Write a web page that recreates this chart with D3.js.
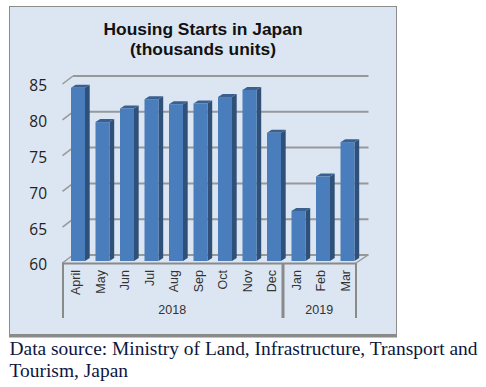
<!DOCTYPE html>
<html><head><meta charset="utf-8">
<script src="https://cdn.jsdelivr.net/npm/d3@7"></script>
<style>html,body{margin:0;padding:0;background:#fff}svg{display:block}</style>
</head><body><svg id="c" width="486" height="387"></svg>
<script>
const months = ["April","May","Jun","Jul","Aug","Sep","Oct","Nov","Dec","Jan","Feb","Mar"];
const values = [84.2,79.4,81.3,82.6,81.9,82.0,82.9,83.9,77.9,67.0,71.8,76.6];
const yearNames = ["2018","2019"];
const yearCounts = [9,3];
const yTicks = [60,65,70,75,80,85];
const titleLines = ["Housing Starts in Japan","(thousands units)"];
const sourceLines = ["Data source: Ministry of Land, Infrastructure, Transport and","Tourism, Japan"];

const svg = d3.select("#c");
// panel
svg.append("rect").attr("x",9.5).attr("y",6.5).attr("width",387).attr("height",329)
  .attr("fill","#dce6f2").attr("stroke","#8c8c8c").attr("stroke-width",1);
svg.append("rect").attr("x",9).attr("y",334).attr("width",388).attr("height",3.5).attr("fill","#8a8a8a");

const x = d3.scaleBand().domain(months).range([63,357]).padding(0);
const y = d3.scaleLinear().domain([60,85]).range([263,84]);
const depthX = 10, depthY = 8;
const gridRight = x.range()[1] - 1;

// back wall gridlines + left wall diagonals
const grid = svg.append("g");
yTicks.forEach(t=>{
  grid.append("line").attr("x1",63+depthX).attr("x2",gridRight+depthX+2.5)
    .attr("y1",y(t)-depthY).attr("y2",y(t)-depthY).attr("stroke","#989898").attr("stroke-width",2);
  grid.append("line").attr("x1",62.5).attr("x2",63+depthX).attr("y1",y(t)).attr("y2",y(t)-depthY)
    .attr("stroke","#989898").attr("stroke-width",1.5);
});
// floor right diagonal
grid.append("line").attr("x1",gridRight).attr("y1",263).attr("x2",gridRight+depthX+2).attr("y2",255)
  .attr("stroke","#989898").attr("stroke-width",1.5);

// y axis labels
const yAxis = d3.axisLeft(y).tickValues(yTicks).tickSize(0).tickPadding(16);
const gy = svg.append("g").attr("transform","translate(63,2)").call(yAxis);
gy.select(".domain").remove();
gy.selectAll("text").attr("font-family","'Open Sans'").attr("font-size",15.5).attr("fill","#222");

// bars
const barW = 14, sideW = 4.7, topH = 3, barLeft = 8, baseLift = 2;
const bars = svg.append("g").selectAll("g").data(months).join("g");
const px = m => x(m)+barLeft;
const py = (m,i) => y(values[i])-baseLift;
const base = 263-baseLift;
bars.append("path").attr("fill","#2f5078")
  .attr("d",(m,i)=>`M${px(m)+barW},${py(m,i)}L${px(m)+barW+sideW},${py(m,i)-topH}L${px(m)+barW+sideW},${base-topH}L${px(m)+barW},${base}Z`);
bars.append("path").attr("fill","#39608f")
  .attr("d",(m,i)=>`M${px(m)},${py(m,i)}L${px(m)+sideW},${py(m,i)-topH}L${px(m)+barW+sideW},${py(m,i)-topH}L${px(m)+barW},${py(m,i)}Z`);
bars.append("rect").attr("fill","#4a7dbb")
  .attr("x",m=>px(m)).attr("y",(m,i)=>py(m,i)).attr("width",barW).attr("height",(m,i)=>base-py(m,i));

// front axis line and group separators
const ax = svg.append("g").attr("stroke","#8a8a8a");
ax.append("line").attr("x1",62).attr("x2",gridRight).attr("y1",263.5).attr("y2",263.5).attr("stroke-width",2);
let acc = 0;
yearCounts.forEach((c,i)=>{
  const start = x(months[acc]);
  const end = start + c*x.step();
  svg.append("text").text(yearNames[i]).attr("x",(start+end)/2-1).attr("y",314)
    .attr("text-anchor","middle").attr("font-family","'Liberation Sans'").attr("font-size",12.5).attr("fill","#333");
  ax.append("line").attr("x1",start).attr("x2",start).attr("y1",263).attr("y2",318).attr("stroke-width",2);
  ax.append("line").attr("x1",end-1).attr("x2",end-1).attr("y1",263).attr("y2",318).attr("stroke-width",2);
  acc += c;
});

// month labels
svg.append("g").selectAll("text").data(months).join("text").text(d=>d)
  .attr("transform",d=>`translate(${x(d)+17},270) rotate(-90)`)
  .attr("text-anchor","end").attr("font-family","'Liberation Sans'").attr("font-size",12.5).attr("fill","#333");

// title
svg.append("g").selectAll("text").data(titleLines).join("text").text(d=>d)
  .attr("x",203).attr("y",(d,i)=>35+i*20).attr("text-anchor","middle")
  .attr("font-family","'Liberation Sans'").attr("font-weight","bold").attr("font-size",17.4).attr("fill","#111");

// source
svg.append("g").selectAll("text").data(sourceLines).join("text").text(d=>d)
  .attr("x",9.5).attr("y",(d,i)=>355+i*21.5)
  .attr("font-family","'Liberation Serif'").attr("font-size",19.45).attr("fill","#0d1640");
</script></body></html>
